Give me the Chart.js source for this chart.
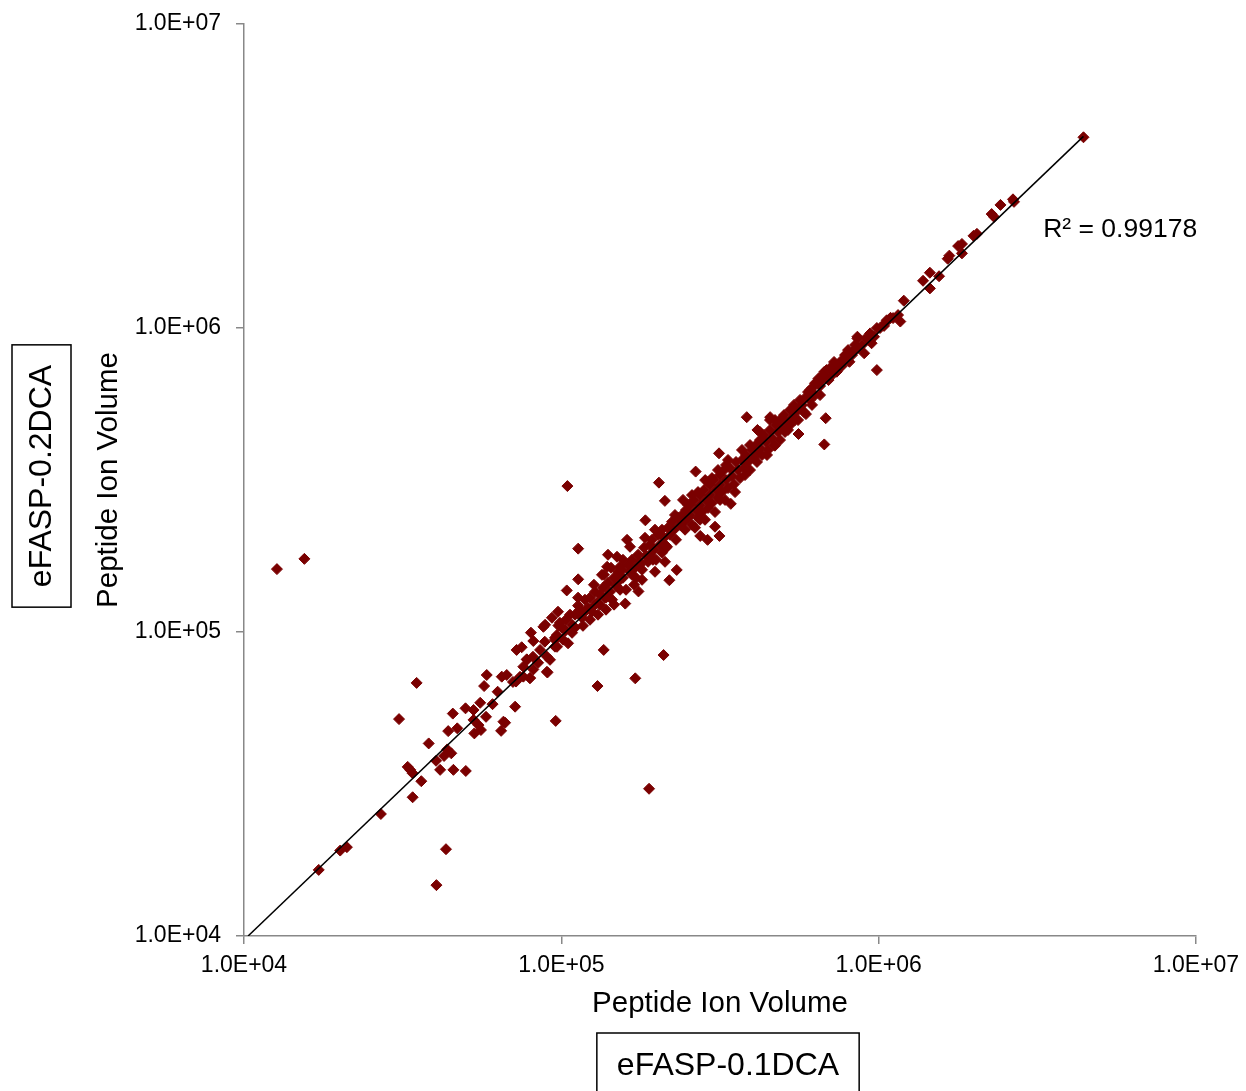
<!DOCTYPE html>
<html>
<head>
<meta charset="utf-8">
<script src="https://cdn.jsdelivr.net/npm/chart.js@4.4.1/dist/chart.umd.min.js"></script>
<style>
  body { margin: 0; background: #fff; }
</style>
</head>
<body>
<canvas id="myChart" width="1246" height="1091"></canvas>
<script>
// axis ticks (log scale, both axes)
const tickValues = [1e4, 1e5, 1e6, 1e7];
const tickLabels = ['1.0E+04', '1.0E+05', '1.0E+06', '1.0E+07'];

const axisTitle = 'Peptide Ion Volume';
const xSample = 'eFASP-0.1DCA';
const ySample = 'eFASP-0.2DCA';
const rSquared = 'R\u00B2 = 0.99178';
const rSquaredAt = [3.3e6, 2.1e6];

// power trendline end points [x, y]
const trendLine = [[1.03e4, 1.0e4], [4.42e6, 4.27e6]];

// peptide ion volumes [eFASP-0.1DCA, eFASP-0.2DCA], below 1e5
const pointsLow = [
  [1.27e4,1.61e5],[1.55e4,1.74e5],[1.72e4,1.65e4],[2.01e4,1.91e4],[2.11e4,1.96e4],[2.7e4,2.52e4],
  [3.4e4,2.86e4],[4.33e4,1.93e4],[4.04e4,1.47e4],[3.5e4,6.8e4],[3.08e4,5.17e4],[3.28e4,3.6e4],
  [3.34e4,3.52e4],[3.4e4,3.43e4],[3.62e4,3.23e4],[3.82e4,4.3e4],[4.03e4,3.77e4],[4.15e4,3.52e4],
  [4.27e4,3.91e4],[4.37e4,4.11e4],[4.5e4,3.99e4],[4.57e4,3.52e4],[5.0e4,3.49e4],[4.4e4,4.72e4],
  [4.7e4,4.82e4],[4.55e4,5.39e4],[4.99e4,5.61e4],[5.29e4,5.54e4],[5.55e4,5.85e4],[5.29e4,5.14e4],
  [5.48e4,4.94e4],[5.58e4,4.76e4],[5.32e4,4.64e4],[5.79e4,5.26e4],[6.07e4,5.79e4],[5.82e4,7.22e4],
  [5.71e4,6.64e4],[6.3e4,6.36e4],[7.15e4,5.68e4],[6.46e4,4.73e4],[6.65e4,5.03e4],[6.57e4,5.07e4],
  [6.49e4,7.13e4],[6.73e4,7.22e4],[7.2e4,6.87e4],[7.59e4,7.13e4],[7.96e4,7.05e4],[7.23e4,8.73e4],
  [7.5e4,8.91e4],[8.02e4,9.95e4],[8.16e4,9.34e4],[8.78e4,1.04e5],[7.59e4,7.69e4],[7.78e4,8.13e4],
  [8.16e4,7.53e4],[8.57e4,8.73e4],[9.0e4,8.3e4],[9.04e4,7.36e4],[9.55e4,8.95e4],[9.79e4,1.05e5],
  [9.55e4,9.42e4],[8.87e4,9.29e4],[9.68e4,9.77e4],[9.6e4,5.1e4],[7.04e4,6.85e4],[7.41e4,7.12e4],
  [7.97e4,7.06e4],[8.45e4,7.92e4],[9.01e4,7.4e4],[9.21e4,8.1e4],[8.14e4,8.29e4],[7.8e4,8.1e4],
  [9.69e4,8.94e4],[9.55e4,9.57e4],[9.9e4,1.072e5],[8.89e4,1.056e5],[9.34e4,1.114e5],[9.76e4,1.166e5]
];

// 1e5 to ~3.7e5
const pointsMid = [
  [1.03e5,1.01e5],[1.04e5,1.37e5],[1.05e5,9.18e4],[1.027e5,1.017e5],[1.045e5,3.02e5],[1.13e5,1.88e5],
  [1.13e5,1.49e5],[1.36e5,8.73e4],[1.3e5,6.64e4],[1.71e5,7.04e4],[2.1e5,8.4e4],[1.89e5,3.05e4],
  [1.75e5,1.36e5],[1.59e5,1.24e5],[2.31e5,1.6e5],[2.19e5,1.48e5],[2.03e5,3.1e5],[2.65e5,3.37e5],
  [2.12e5,2.7e5],[1.84e5,2.33e5],[3.14e5,3.87e5],[3.05e5,2.22e5],[3.15e5,2.07e5],[2.89e5,2.01e5],
  [2.74e5,2.07e5],[3.42e5,2.64e5],[2.84e5,3.16e5],
  [1.004e5,1.033e5],[1.034e5,1.097e5],[1.065e5,1.14e5],[1.081e5,1.056e5],[1.104e5,1.14e5],[1.129e5,1.221e5],
  [1.145e5,1.184e5],[1.162e5,1.114e5],[1.187e5,1.277e5],[1.213e5,1.202e5],[1.231e5,1.297e5],[1.249e5,1.166e5],
  [1.277e5,1.356e5],[1.296e5,1.248e5],[1.324e5,1.326e5],[1.324e5,1.23e5],[1.353e5,1.398e5],[1.373e5,1.297e5],
  [1.403e5,1.452e5],[1.424e5,1.356e5],[1.445e5,1.277e5],[1.466e5,1.508e5],[1.487e5,1.42e5],[1.509e5,1.578e5],
  [1.531e5,1.485e5],[1.531e5,1.377e5],[1.17e5,1.048e5],[1.231e5,1.097e5],[1.305e5,1.14e5],[1.383e5,1.184e5],
  [1.466e5,1.23e5],[1.081e5,9.94e4],[1.129e5,1.297e5],[1.267e5,1.43e5],[1.363e5,1.542e5],[1.434e5,1.627e5],
  [1.012e5,9.43e4],[1.104e5,1.033e5],[1.187e5,1.166e5],[1.277e5,1.23e5],[1.383e5,1.297e5],
  [1.553e5,1.602e5],[1.564e5,1.508e5],[1.622e5,1.664e5],[1.646e5,1.578e5],[1.67e5,1.728e5],[1.706e5,1.627e5],
  [1.719e5,1.508e5],[1.745e5,1.795e5],[1.77e5,1.702e5],[1.796e5,1.602e5],[1.822e5,1.892e5],[1.849e5,1.782e5],
  [1.876e5,1.702e5],[1.903e5,1.935e5],[1.903e5,1.795e5],[1.931e5,2.01e5],[1.959e5,1.864e5],[1.988e5,1.728e5],
  [2.017e5,2.089e5],[2.046e5,1.935e5],[2.076e5,2.17e5],[2.106e5,2.041e5],[2.137e5,1.892e5],[2.168e5,2.203e5],
  [2.2e5,2.089e5],[2.232e5,2.305e5],[2.265e5,2.17e5],[2.298e5,2.01e5],[2.332e5,2.376e5],[2.366e5,2.253e5],
  [1.599e5,1.377e5],[1.695e5,1.43e5],[1.796e5,1.485e5],[1.973e5,1.578e5],[2.122e5,1.702e5],[1.944e5,1.728e5],
  [2.076e5,1.822e5],[2.153e5,1.907e5],[1.77e5,1.664e5],[1.611e5,2.01e5],[1.646e5,1.907e5],[1.498e5,1.768e5],
  [1.403e5,1.795e5],[1.394e5,1.639e5],[1.343e5,1.542e5],[1.531e5,1.639e5],
  [1.564e5,1.728e5],[1.835e5,2.041e5],[1.973e5,2.17e5],[2.281e5,2.426e5],[2.122e5,1.935e5],[1.67e5,1.542e5],
  [2.401e5,2.426e5],[2.436e5,2.305e5],[2.471e5,2.52e5],[2.507e5,2.376e5],[2.544e5,2.619e5],[2.544e5,2.426e5],
  [2.581e5,2.253e5],[2.619e5,2.72e5],[2.657e5,2.52e5],[2.696e5,2.376e5],[2.735e5,2.821e5],[2.735e5,2.619e5],
  [2.775e5,2.482e5],[2.816e5,2.93e5],[2.857e5,2.72e5],[2.899e5,2.559e5],[2.941e5,3.043e5],[2.941e5,2.821e5],
  [2.984e5,2.659e5],[3.028e5,3.16e5],[3.072e5,2.93e5],[3.117e5,2.762e5],[3.163e5,3.283e5],[3.163e5,3.043e5],
  [3.209e5,2.886e5],[3.256e5,3.41e5],[3.304e5,3.16e5],[3.352e5,2.975e5],[3.401e5,3.462e5],[3.451e5,3.258e5],
  [3.501e5,3.065e5],[3.552e5,3.625e5],[3.604e5,3.41e5],[3.657e5,3.208e5],[2.454e5,2.17e5],[2.638e5,2.203e5],
  [2.836e5,2.34e5],[3.05e5,2.482e5],[3.28e5,2.72e5],[3.527e5,2.886e5],[2.507e5,2.619e5],[2.696e5,2.886e5],
  [2.899e5,3.112e5],[3.117e5,3.41e5],[3.352e5,3.68e5],
  [2.418e5,2.72e5],[2.581e5,2.821e5],[2.984e5,3.208e5],[3.304e5,3.543e5],[3.163e5,2.72e5],[2.735e5,2.34e5]
];

// above ~3.7e5
const pointsHigh = [
  [3.71e5,3.68e5],[3.765e5,3.462e5],[3.82e5,3.822e5],[3.875e5,3.625e5],[3.932e5,3.41e5],[3.989e5,3.97e5],
  [4.048e5,3.736e5],[4.107e5,4.121e5],[4.167e5,3.91e5],[4.228e5,4.28e5],[4.228e5,4.031e5],[4.29e5,3.822e5],
  [4.353e5,4.448e5],[4.416e5,4.216e5],[4.481e5,3.97e5],[4.546e5,4.62e5],[4.612e5,4.345e5],[4.68e5,4.121e5],
  [4.748e5,4.795e5],[4.818e5,4.55e5],[4.888e5,4.98e5],[4.959e5,4.691e5],[5.032e5,5.17e5],[5.106e5,4.905e5],
  [5.18e5,4.62e5],[5.256e5,5.37e5],[5.333e5,5.056e5],[5.411e5,5.584e5],[5.49e5,5.289e5],[5.571e5,4.98e5],
  [5.652e5,5.8e5],[5.652e5,5.452e5],[3.792e5,3.283e5],[4.136e5,3.625e5],[4.448e5,3.822e5],[4.888e5,4.28e5],
  [5.256e5,4.795e5],[3.932e5,4.121e5],[4.546e5,4.98e5],
  [3.71e5,3.97e5],[4.228e5,4.55e5],[4.714e5,4.98e5],[5.069e5,4.55e5],[5.45e5,4.98e5],
  [3.84e5,5.09e5],[4.55e5,5.09e5],[4.15e5,4.62e5],[5.9e5,5.21e5],[5.59e5,4.48e5],[4.71e5,4.1e5],
  [6.81e5,5.05e5],[6.74e5,4.14e5],
  [5.735e5,5.584e5],[5.861e5,5.889e5],[5.99e5,6.156e5],[6.077e5,5.8e5],[6.166e5,6.346e5],[6.302e5,6.018e5],
  [6.535e5,6.444e5],[6.63e5,6.74e5],[6.728e5,7.16e5],[6.826e5,6.843e5],[7.027e5,7.381e5],[7.13e5,7.0e5],
  [7.234e5,7.732e5],[7.34e5,7.27e5],[7.447e5,7.558e5],[7.666e5,7.85e5],[7.835e5,8.146e5],[8.008e5,8.46e5],
  [8.244e5,8.146e5],[8.426e5,8.79e5],[8.61e5,8.589e5],[5.819e5,5.289e5],[6.166e5,5.584e5],[6.535e5,6.018e5],
  [6.077e5,6.25e5],
  [8.57e5,9.36e5],[9.0e5,8.26e5],[9.87e5,7.27e5],[1.2e6,1.23e6],[1.17e6,1.05e6],[1.06e6,1.06e6],
  [1.09e6,1.08e6],[1.05e6,1.04e6],[9.87e5,1.0e6],[9.4e5,9.6e5],[9.67e5,9.36e5],[9.5e5,8.91e5],
  [9.29e5,9.14e5],[8.57e5,9.24e5],[8.4e5,8.47e5],[7.89e5,8.15e5],[8.09e5,7.74e5],[7.55e5,7.65e5],
  [7.28e5,7.55e5],[7.11e5,7.36e5],[6.85e5,7.27e5],[6.69e5,7.0e5],[6.46e5,6.82e5],[6.3e5,6.58e5],
  [6.95e5,6.74e5],[7.38e5,7.18e5],[7.66e5,7.5e5],
  [8.864e5,8.79e5],[9.125e5,9.27e5],[9.531e5,9.413e5],[1.01e6,1.0e6],[1.04e6,1.016e6],[1.11e6,1.078e6],
  [1.151e6,1.103e6],
  [1.38e6,1.43e6],[1.45e6,1.35e6],[1.45e6,1.52e6],[1.55e6,1.48e6],[1.65e6,1.69e6],[1.67e6,1.73e6],
  [1.78e6,1.86e6],[1.83e6,1.89e6],[1.83e6,1.76e6],[1.99e6,2.01e6],[2.04e6,2.04e6],[2.27e6,2.37e6],
  [2.31e6,2.32e6],[2.42e6,2.54e6],[2.65e6,2.65e6],[2.67e6,2.6e6],[4.42e6,4.24e6]
];

const fontFamily = "'Liberation Sans', Arial, sans-serif";
Chart.defaults.font.family = fontFamily;
Chart.defaults.color = '#000';

let toXY = p => ({x: p[0], y: p[1]});

// R² text and the two boxed sample names
const extraText = {
  id: 'extraText',
  afterDraw(chart) {
    const ctx = chart.ctx;
    const {left, right, top, bottom} = chart.chartArea;
    ctx.save();
    ctx.fillStyle = '#000';
    ctx.strokeStyle = '#000';
    ctx.lineWidth = 1.5;
    ctx.textBaseline = 'middle';

    ctx.font = '26.5px ' + fontFamily;
    ctx.textAlign = 'left';
    ctx.fillText(rSquared, chart.scales.x.getPixelForValue(rSquaredAt[0]), chart.scales.y.getPixelForValue(rSquaredAt[1]));

    ctx.font = '32px ' + fontFamily;
    ctx.textAlign = 'center';
    let w = ctx.measureText(xSample).width + 40;
    let cx = (left + right) / 2 + 8;
    ctx.strokeRect(cx - w / 2, bottom + 97, w, 70);
    ctx.fillText(xSample, cx, bottom + 130);

    w = ctx.measureText(ySample).width + 40;
    ctx.translate(left - 202.5, (top + bottom) / 2 - 4);
    ctx.rotate(-Math.PI / 2);
    ctx.strokeRect(-w / 2, -29.5, w, 59);
    ctx.fillText(ySample, 0, 1);
    ctx.restore();
  }
};

function logAxis(pos, title) {
  return {
    type: 'logarithmic',
    position: pos,
    min: 1e4,
    max: 1e7,
    afterBuildTicks: s => { s.ticks = tickValues.map(v => ({value: v, major: true})); },
    ticks: {
      callback: v => tickLabels[tickValues.indexOf(v)],
      font: {size: 23},
      padding: pos == 'left' ? 15 : 8,
      maxRotation: 0,
      autoSkip: false
    },
    grid: {drawOnChartArea: false, tickLength: 8, color: '#888', lineWidth: 1.5},
    border: {color: '#888', width: 1.5},
    title: {display: true, text: title, font: {size: 29.5}, padding: 0}
  };
}

// fixed axis sizes; the layout padding alone decides the plot edges
let xAxis = logAxis('bottom', axisTitle);
xAxis.afterFit = s => { s.height = 86; s.paddingLeft = 0; s.paddingRight = 0; };
let yAxis = logAxis('left', axisTitle);
yAxis.afterFit = s => { s.width = 153; s.paddingTop = 0; s.paddingBottom = 0; };

let myChart = document.getElementById('myChart').getContext('2d');

let volumeChart = new Chart(myChart, {
  type: 'scatter',
  data: {
    datasets: [{
      label: 'Trend',
      data: trendLine.map(toXY),
      showLine: true,
      borderColor: '#000',
      borderWidth: 1.5,
      pointRadius: 0
    }, {
      label: 'Peptide Ion Volume',
      data: pointsLow.concat(pointsMid, pointsHigh).map(toXY),
      pointStyle: 'rectRot',
      pointRadius: 5.5,
      borderWidth: 1,
      backgroundColor: '#7a0000',
      borderColor: '#7a0000'
    }]
  },
  options: {
    responsive: false,
    animation: false,
    layout: {padding: {left: 91, right: 50, top: 24, bottom: 69}},
    plugins: {legend: {display: false}, tooltip: {enabled: false}},
    scales: {x: xAxis, y: yAxis}
  },
  plugins: [extraText]
});
</script>
</body>
</html>
